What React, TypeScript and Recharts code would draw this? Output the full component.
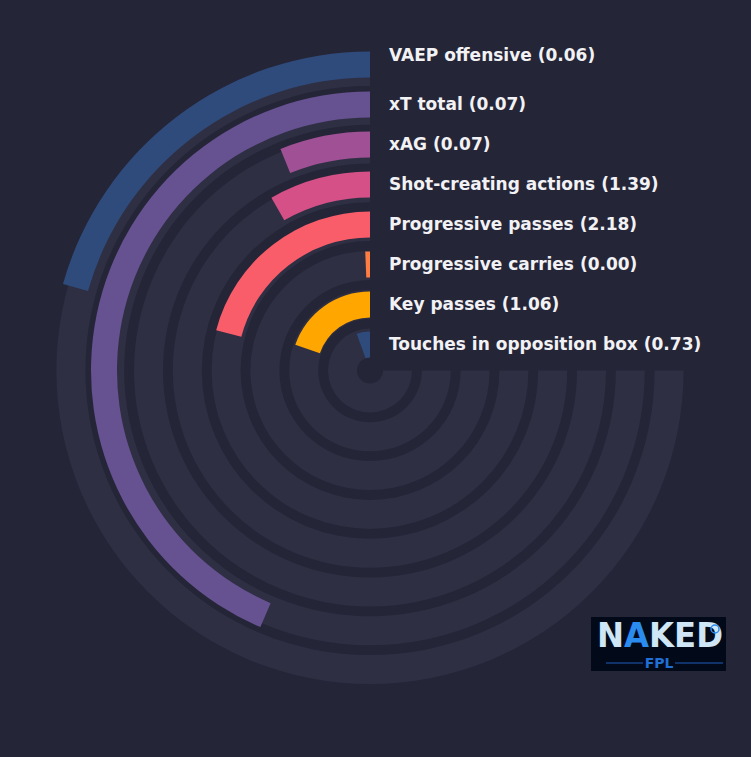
import React from 'react';
import { RadialBarChart, RadialBar, PolarAngleAxis, PolarRadiusAxis, Sector } from 'recharts';

// Innermost ring first
const categories = [
  'Touches in opposition box',
  'Key passes',
  'Progressive carries',
  'Progressive passes',
  'Shot-creating actions',
  'xAG',
  'xT total',
  'VAEP offensive',
];
const rawValues = ['0.73', '1.06', '0.00', '2.18', '1.39', '0.07', '0.07', '0.06'];
const percentiles = [7.4, 26.3, 0.85, 27.9, 11.0, 8.15, 58.1, 27.5];
const palette = ['#2f4b7c', '#ffa600', '#ff7c43', '#f95d6a', '#d45087', '#a05195', '#665191', '#2f4b7c'];

const BG = '#252538';
const TRACK = '#2f2f43';
const START_ANGLE = 90;
const END_ANGLE = 360;

const data = categories.map((name, i) => ({ name, value: percentiles[i], raw: rawValues[i] }));

const BarShape = (p: any) => {
  const i = p.index ?? 0;
  const mid = (p.innerRadius + p.outerRadius) / 2;
  const trackMid = mid + 1.5 - 1.2 * i;
  const capCenter = p.cy - mid - 0.5 - (i === categories.length - 1 ? 9.5 : 0);
  const bgStart = p.background?.startAngle ?? START_ANGLE;
  const bgEnd = p.background?.endAngle ?? END_ANGLE;
  return (
    <g>
      <Sector
        cx={p.cx}
        cy={p.cy}
        innerRadius={trackMid - 14.5}
        outerRadius={trackMid + 14.5}
        startAngle={bgStart}
        endAngle={bgEnd}
        fill={TRACK}
        stroke="none"
      />
      <Sector
        cx={p.cx}
        cy={p.cy}
        innerRadius={p.innerRadius}
        outerRadius={p.outerRadius}
        startAngle={p.startAngle}
        endAngle={p.endAngle}
        fill={palette[i]}
        stroke="none"
      />
      <text
        x={p.cx + 19}
        y={capCenter + 6.2}
        fill="#f2f2f5"
        fontFamily="'DejaVu Sans', sans-serif"
        fontWeight="bold"
        fontSize={17}
      >
        {`${p.payload?.name ?? categories[i]} (${p.payload?.raw ?? rawValues[i]})`}
      </text>
    </g>
  );
};

const Logo = () => (
  <svg
    width={140}
    height={80}
    style={{ position: 'absolute', left: 591, top: 600 }}
  >
    <rect x={0} y={17} width={135} height={54} fill="#020918" />
    <text
      x={6}
      y={47}
      fontFamily="'DejaVu Sans', sans-serif"
      fontWeight="bold"
      fontSize={34}
      fill="#cfe6f6"
      textLength={126}
      lengthAdjust="spacingAndGlyphs"
    >
      N<tspan fill="#2b8cf0">A</tspan>KED
    </text>
    <circle cx={124} cy={29} r={4} fill="none" stroke="#2b8cf0" strokeWidth={1.5} />
    <line x1={15} y1={63} x2={52} y2={63} stroke="#1f5fc0" strokeWidth={1.2} />
    <line x1={84} y1={63} x2={132} y2={63} stroke="#1f5fc0" strokeWidth={1.2} />
    <text
      x={68}
      y={68}
      textAnchor="middle"
      fontFamily="'DejaVu Sans', sans-serif"
      fontWeight="bold"
      fontSize={14}
      fill="#1f6fd6"
    >
      FPL
    </text>
  </svg>
);

export default function App() {
  return (
    <div
      style={{
        position: 'absolute',
        left: 0,
        top: 0,
        width: 751,
        height: 757,
        background: BG,
        overflow: 'hidden',
      }}
    >
      <RadialBarChart
        width={751}
        height={757}
        data={data}
        cx={370}
        cy={370.5}
        innerRadius={6}
        outerRadius={326}
        startAngle={START_ANGLE}
        endAngle={END_ANGLE}
        barSize={26}
        margin={{ top: 0, right: 0, bottom: 0, left: 0 }}
      >
        <PolarAngleAxis type="number" domain={[0, 100]} tick={false} axisLine={false} />
        <PolarRadiusAxis type="category" dataKey="name" tick={false} axisLine={false} />
        <RadialBar
          dataKey="value"
          background={false}
          shape={BarShape}
          isAnimationActive={false}
        />
      </RadialBarChart>
      <Logo />
    </div>
  );
}
